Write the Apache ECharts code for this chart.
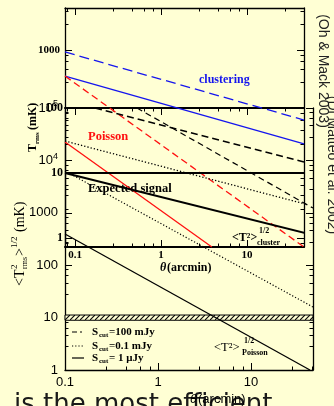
<!DOCTYPE html>
<html>
<head>
<meta charset="utf-8">
<script src="https://cdn.jsdelivr.net/npm/echarts@6/dist/echarts.min.js"></script>
<style>
  html, body { margin: 0; padding: 0; background: #ffffd4; }
  #chart { width: 334px; height: 406px; }
</style>
</head>
<body>
<div id="chart"></div>
<script>
// theta in arcmin, temperatures in mK; each power law is given by its two ends

// top panel (Oh & Mack 2003), clustering
const topTheta = [0.0765, 46];
const topClusterDashed = [925, 62];
const topClusterSolid = [355, 24];

// inset (Di Matteo et al. 2002)
const insetTheta = [0.0765, 46];
const insetPoissonDashed = [310, 0.727];
const insetPoissonSolidTheta = [0.0765, 3.9];
const insetPoissonSolid = [30, 0.727];
const insetDashedTheta = [0.171, 46];
const insetClusterDashed = [100, 14.8];
const insetWideTheta = [0.0765, 58.5];
const insetClusterDotted = [31, 3.1];
const insetClusterSolid = [10, 1.11];
const insetExpected = [10, 10];

// main panel, Poisson term for three flux cuts
const mainDashedTheta = [0.594, 46.4];
const mainDashed = [1e5, 1230];
const mainDottedTheta = [0.1, 46.4];
const mainDotted = [6300, 15.9];
const mainSolidTheta = [0.1, 43];
const mainSolid = [394, 1];
const noiseBand = [8.9, 11.2];

const legendLabels = ["=100 mJy", "=0.1 mJy", "= 1 \u03bcJy"];

const serif = '"Liberation Serif", "DejaVu Serif", serif';
const sans = '"Liberation Sans", "DejaVu Sans", sans-serif';
const blue = "#1515ee";
const red = "#ff1010";

const pts = (xs, ys) => xs.map((x, i) => [x, ys[i]]);

function isDecade(v) {
  const e = Math.log10(v);
  return Math.abs(e - Math.round(e)) < 1e-6;
}

function plainLabel(v) {
  if (!isDecade(v)) return "";
  const e = Math.round(Math.log10(v));
  return e < 0 ? Math.pow(10, e).toFixed(-e) : String(Math.pow(10, e));
}

function mainYLabel(v) {
  if (!isDecade(v)) return "";
  const e = Math.round(Math.log10(v));
  return e >= 4 ? "10{sup|" + e + "}" : String(Math.pow(10, e));
}

function logAxis(extra) {
  return Object.assign(
    {
      type: "log",
      logBase: 10,
      axisLine: { show: true, lineStyle: { color: "#000", width: 1.3 } },
      axisTick: { show: true, inside: true, length: 7, lineStyle: { color: "#000" } },
      minorTick: { show: true, splitNumber: 5, length: 3.5, lineStyle: { color: "#000" } },
      splitLine: { show: false },
      minorSplitLine: { show: false },
      axisLabel: { show: false },
    },
    extra,
  );
}

function lineSeries(xi, yi, data, color, type, width, clip) {
  return {
    type: "line",
    xAxisIndex: xi,
    yAxisIndex: yi,
    data: data,
    symbol: "none",
    clip: clip,
    silent: true,
    lineStyle: { color: color, type: type, width: width },
  };
}

// hatch for the noise band
const hatch = document.createElement("canvas");
hatch.width = 5;
hatch.height = 5;
const hctx = hatch.getContext("2d");
hctx.fillStyle = "#ffffd4";
hctx.fillRect(0, 0, 5, 5);
hctx.strokeStyle = "#000";
hctx.lineWidth = 1.1;
hctx.beginPath();
hctx.moveTo(-1, 6);
hctx.lineTo(6, -1);
hctx.stroke();

const chart = echarts.init(document.getElementById("chart"), null, { renderer: "canvas" });

const legendRows = [332, 346, 358];
const legendDash = [[5, 3, 2, 3], [1.2, 2], "solid"];

const graphics = [];

// slide text behind the figure, cut by the bottom edge
graphics.push(
  { type: "text", x: 14, y: 405, z: -1, style: { text: "is the most efficient", font: "26px \"DejaVu Sans\", sans-serif", fill: "#1a1a1a", verticalAlign: "middle" } },
);

// annotations
graphics.push(
  { type: "text", x: 199, y: 80, style: { text: "clustering", font: "bold 12px " + serif, fill: blue, verticalAlign: "middle" } },
  { type: "text", x: 88, y: 137, style: { text: "Poisson", font: "bold 12.5px " + serif, fill: red, verticalAlign: "middle" } },
  { type: "text", x: 88, y: 189, style: { text: "Expected signal", font: "bold 12.5px " + serif, fill: "#000", verticalAlign: "middle" } },
  { type: "text", x: 232, y: 238, style: { text: "<T\u00b2>", font: "bold 12px " + serif, fill: "#000", verticalAlign: "middle" } },
  { type: "text", x: 259, y: 231, style: { text: "1/2", font: "bold 8px " + serif, fill: "#000", verticalAlign: "middle" } },
  { type: "text", x: 257, y: 243, style: { text: "cluster", font: "bold 8px " + serif, fill: "#000", verticalAlign: "middle" } },
  { type: "text", x: 214, y: 348, style: { text: "<T\u00b2>", font: "12.5px " + serif, fill: "#000", verticalAlign: "middle" } },
  { type: "text", x: 244, y: 341, style: { text: "1/2", font: "bold 8px " + serif, fill: "#000", verticalAlign: "middle" } },
  { type: "text", x: 242, y: 353, style: { text: "Poisson", font: "bold 8px " + serif, fill: "#000", verticalAlign: "middle" } },
);

// legend of the main panel
legendRows.forEach((y, i) => {
  graphics.push(
    { type: "line", shape: { x1: 72, y1: y, x2: 84, y2: y }, style: { stroke: "#000", lineWidth: 1.2, lineDash: legendDash[i] === "solid" ? null : legendDash[i] } },
    { type: "text", x: 92, y: y, style: { text: "S", font: "bold 11px " + serif, fill: "#000", verticalAlign: "middle" } },
    { type: "text", x: 99, y: y + 3, style: { text: "cut", font: "bold 7px " + serif, fill: "#000", verticalAlign: "middle" } },
    { type: "text", x: 109, y: y, style: { text: legendLabels[i], font: "bold 11px " + serif, fill: "#000", verticalAlign: "middle" } },
  );
});

// axis titles
graphics.push(
  { type: "text", x: 160, y: 268, style: { text: "\u03b8", font: "italic bold 12px " + serif, fill: "#000", verticalAlign: "middle" } },
  { type: "text", x: 167, y: 268, style: { text: "(arcmin)", font: "bold 12px " + serif, fill: "#000", verticalAlign: "middle" } },
  {
    type: "group", x: 33, y: 152, rotation: Math.PI / 2,
    children: [
      { type: "text", x: 0, y: 0, style: { text: "T", font: "bold 12px " + serif, fill: "#000", verticalAlign: "middle" } },
      { type: "text", x: 8, y: 4, style: { text: "rms", font: "bold 7px " + serif, fill: "#000", verticalAlign: "middle" } },
      { type: "text", x: 22, y: 0, style: { text: "(mK)", font: "bold 12px " + serif, fill: "#000", verticalAlign: "middle" } },
    ],
  },
  {
    type: "group", x: 20, y: 286, rotation: Math.PI / 2,
    children: [
      { type: "text", x: 0, y: 0, style: { text: "<T", font: "14px " + serif, fill: "#000", verticalAlign: "middle" } },
      { type: "text", x: 17, y: -5, style: { text: "2", font: "9px " + serif, fill: "#000", verticalAlign: "middle" } },
      { type: "text", x: 17, y: 5, style: { text: "rms", font: "8px " + serif, fill: "#000", verticalAlign: "middle" } },
      { type: "text", x: 30, y: 0, style: { text: ">", font: "14px " + serif, fill: "#000", verticalAlign: "middle" } },
      { type: "text", x: 38, y: -5, style: { text: "1/2", font: "9px " + serif, fill: "#000", verticalAlign: "middle" } },
      { type: "text", x: 54, y: 0, style: { text: "(mK)", font: "14px " + serif, fill: "#000", verticalAlign: "middle" } },
    ],
  },
  { type: "text", x: 190, y: 399, style: { text: "\u03b8", font: "italic 13px " + sans, fill: "#000", verticalAlign: "middle" } },
  { type: "text", x: 198, y: 399, style: { text: "(arcmin)", font: "13px " + sans, fill: "#000", verticalAlign: "middle" } },
  { type: "text", x: 323, y: 71, rotation: -Math.PI / 2, style: { text: "(Oh & Mack 2003)", font: "14px " + sans, fill: "#222", align: "center", verticalAlign: "middle" } },
  { type: "text", x: 332, y: 165, rotation: -Math.PI / 2, style: { text: "(Di Matteo et al. 2002)", font: "14px " + sans, fill: "#222", align: "center", verticalAlign: "middle" } },
);

chart.setOption({
  backgroundColor: "#ffffd4",
  animation: false,
  grid: [
    { left: 65, top: 8, width: 239, height: 100 },
    { left: 65, top: 108, width: 239, height: 139 },
    { left: 65, top: 108, width: 248, height: 262 },
  ],
  xAxis: [
    logAxis({ gridIndex: 0, position: "top", min: topTheta[0], max: topTheta[1] }),
    logAxis({
      gridIndex: 1, position: "bottom", min: insetTheta[0], max: insetTheta[1],
      axisLine: { show: true, lineStyle: { color: "#000", width: 2.2 } },
      axisLabel: { show: true, formatter: plainLabel, margin: 3, color: "#000", fontFamily: serif, fontWeight: "bold", fontSize: 11 },
    }),
    logAxis({ gridIndex: 1, position: "top", min: insetTheta[0], max: insetTheta[1],
      axisLine: { show: true, lineStyle: { color: "#000", width: 2.2 } } }),
    logAxis({
      gridIndex: 2, position: "bottom", min: mainDottedTheta[0], max: mainDottedTheta[1],
      axisLabel: { show: true, formatter: plainLabel, margin: 6, color: "#000", fontFamily: sans, fontSize: 13 },
    }),
  ],
  yAxis: [
    logAxis({
      gridIndex: 0, position: "left", min: 100, max: 5300,
      axisLabel: { show: true, formatter: plainLabel, showMinLabel: false, margin: 5, color: "#000", fontFamily: serif, fontWeight: "bold", fontSize: 11 },
    }),
    logAxis({ gridIndex: 0, position: "right", min: 100, max: 5300 }),
    logAxis({
      gridIndex: 1, position: "left", min: 0.727, max: 100,
      axisLabel: { show: true, formatter: plainLabel, margin: 2, color: "#000", fontFamily: serif, fontWeight: "bold", fontSize: 12 },
    }),
    logAxis({ gridIndex: 1, position: "right", min: 0.727, max: 100 }),
    logAxis({
      gridIndex: 2, position: "left", min: 1, max: 1e5,
      axisLabel: {
        show: true, formatter: mainYLabel, margin: 7, color: "#000", fontFamily: sans, fontSize: 13,
        rich: { sup: { fontSize: 9, fontFamily: sans, padding: [0, 0, 8, 0] } },
      },
    }),
    logAxis({ gridIndex: 2, position: "right", min: 1, max: 1e5 }),
  ],
  series: [
    // top panel
    lineSeries(0, 0, pts(topTheta, topClusterDashed), blue, [10, 5], 1.3, false),
    lineSeries(0, 0, pts(topTheta, topClusterSolid), blue, "solid", 1.3, false),
    // inset
    lineSeries(1, 2, pts(insetTheta, insetPoissonDashed), red, [7, 4], 1.3, false),
    lineSeries(1, 2, pts(insetPoissonSolidTheta, insetPoissonSolid), red, "solid", 1.3, false),
    lineSeries(1, 2, pts(insetDashedTheta, insetClusterDashed), "#000", [7, 4], 1.5, false),
    lineSeries(1, 2, pts(insetWideTheta, insetClusterDotted), "#000", [1.3, 2], 1.3, false),
    lineSeries(1, 2, pts(insetWideTheta, insetClusterSolid), "#000", "solid", 2, false),
    lineSeries(1, 2, pts(insetWideTheta, insetExpected), "#000", "solid", 2, false),
    // main panel
    lineSeries(3, 4, pts(mainDashedTheta, mainDashed), "#000", [6, 4], 1.2, true),
    lineSeries(3, 4, pts(mainDottedTheta, mainDotted), "#000", [1.2, 2], 1.2, true),
    Object.assign(lineSeries(3, 4, pts(mainSolidTheta, mainSolid), "#000", "solid", 1.3, true), {
      markArea: {
        silent: true,
        itemStyle: { color: { image: hatch, repeat: "repeat" }, borderColor: "#000", borderWidth: 1 },
        data: [[{ yAxis: noiseBand[0] }, { yAxis: noiseBand[1] }]],
      },
    }),
  ],
  graphic: graphics,
});
</script>
</body>
</html>
